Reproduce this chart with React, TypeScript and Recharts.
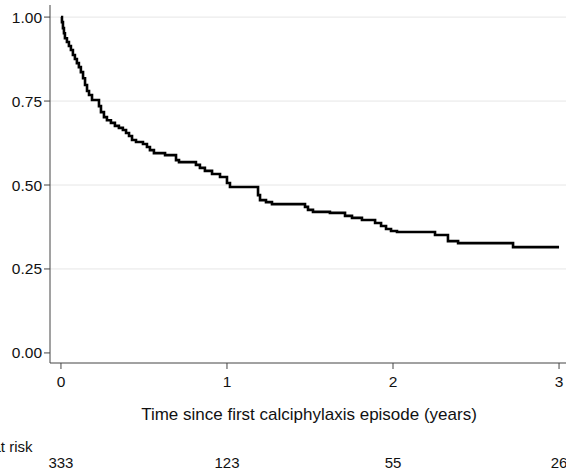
import { LineChart, Line, XAxis, YAxis, CartesianGrid } from "recharts";

// Kaplan-Meier estimate: time (years) and survival after each drop
const times = [
  0, 0.006, 0.012, 0.018, 0.024, 0.036, 0.048, 0.06, 0.072, 0.084, 0.096, 0.108, 0.12, 0.133,
  0.145, 0.157, 0.169, 0.187, 0.229, 0.241, 0.259, 0.277, 0.301, 0.325, 0.349, 0.373, 0.392,
  0.41, 0.428, 0.452, 0.494, 0.518, 0.536, 0.56, 0.627, 0.693, 0.711, 0.813, 0.837, 0.867, 0.91,
  0.958, 1.0, 1.018, 1.187, 1.199, 1.235, 1.271, 1.47, 1.488, 1.518, 1.62, 1.711, 1.753, 1.813,
  1.892, 1.928, 1.958, 1.988, 2.024, 2.253, 2.331, 2.392, 2.723, 3.0,
];
const survival = [
  1.0, 0.985, 0.967, 0.952, 0.937, 0.926, 0.914, 0.902, 0.887, 0.875, 0.863, 0.851, 0.836, 0.818,
  0.798, 0.78, 0.768, 0.753, 0.735, 0.717, 0.702, 0.693, 0.685, 0.676, 0.67, 0.664, 0.655, 0.646,
  0.634, 0.628, 0.622, 0.613, 0.604, 0.595, 0.589, 0.574, 0.568, 0.56, 0.551, 0.542, 0.533, 0.524,
  0.506, 0.494, 0.47, 0.455, 0.449, 0.443, 0.435, 0.426, 0.42, 0.417, 0.408, 0.402, 0.396, 0.387,
  0.378, 0.369, 0.363, 0.36, 0.351, 0.333, 0.327, 0.315, 0.315,
];

const xTicks = [0, 1, 2, 3];
const atRisk = [333, 123, 55, 26];
const yTicks = [0, 0.25, 0.5, 0.75, 1];
const gridValues = [0.25, 0.5, 0.75, 1];

const data = times.map((t, i) => ({ t, s: survival[i] }));

const FONT = "'Liberation Sans', Arial, sans-serif";

function TimeTick({ x, y, payload }: any) {
  return (
    <text x={x} y={y} dy={16} textAnchor="middle" fontSize={15.5} fontFamily={FONT} fill="#111">
      {payload.value}
    </text>
  );
}

function RiskTick({ x, y, payload }: any) {
  const n = atRisk[xTicks.indexOf(payload.value)];
  return (
    <text x={x} y={y} dy={35} textAnchor="middle" fontSize={15} fontFamily={FONT} fill="#111">
      {n}
    </text>
  );
}

function SurvTick({ x, y, payload }: any) {
  return (
    <text x={x} y={y} dy={5.5} textAnchor="end" fontSize={15.5} fontFamily={FONT} fill="#111">
      {payload.value.toFixed(2)}
    </text>
  );
}

export default function App() {
  return (
    <div
      style={{
        position: "absolute",
        left: 0,
        top: 0,
        width: 566,
        height: 471,
        overflow: "hidden",
        background: "#fff",
      }}
    >
      <LineChart width={580} height={471} data={data} margin={{ top: 5, right: 12, left: 0, bottom: 0 }}>
        <CartesianGrid horizontal vertical={false} horizontalValues={gridValues} stroke="#e6e6e6" />
        <XAxis
          dataKey="t"
          type="number"
          domain={[-0.066, 3.054]}
          allowDataOverflow
          ticks={xTicks}
          tick={<TimeTick />}
          tickSize={6}
          height={70}
          stroke="#444"
          label={{
            value: "Time since first calciphylaxis episode (years)",
            position: "insideTop",
            dy: 40,
            fontSize: 17,
            fontFamily: FONT,
            fill: "#111",
          }}
        />
        <XAxis
          xAxisId="risk"
          dataKey="t"
          type="number"
          domain={[-0.066, 3.054]}
          allowDataOverflow
          ticks={xTicks}
          tick={<RiskTick />}
          axisLine={false}
          tickLine={false}
          tickSize={0}
          tickMargin={0}
          height={38}
        />
        <YAxis
          type="number"
          domain={[-0.03, 1.036]}
          allowDataOverflow
          ticks={yTicks}
          tick={<SurvTick />}
          tickSize={6}
          width={50}
          stroke="#444"
        />
        <Line
          dataKey="s"
          type="stepAfter"
          stroke="#000"
          strokeWidth={2.6}
          dot={false}
          isAnimationActive={false}
        />
      </LineChart>
      <div
        style={{
          position: "absolute",
          left: -65,
          top: 438,
          fontSize: 15,
          fontFamily: FONT,
          color: "#111",
          whiteSpace: "nowrap",
        }}
      >
        Number at risk
      </div>
    </div>
  );
}
